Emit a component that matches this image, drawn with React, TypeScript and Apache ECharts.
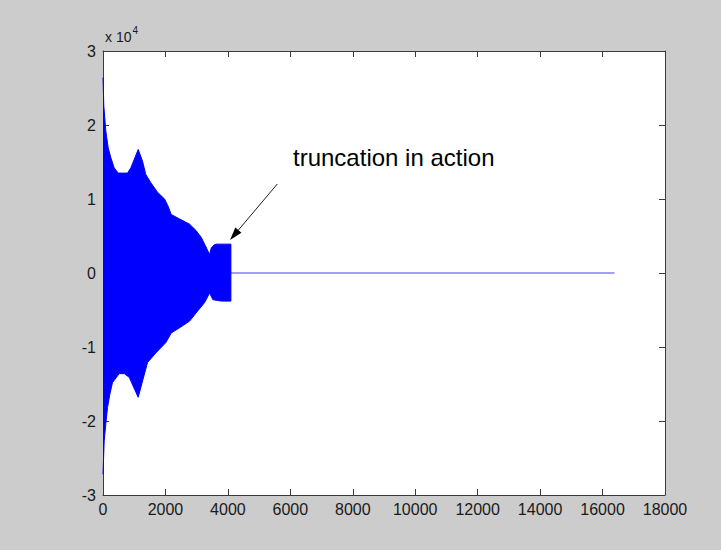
import React, { useEffect, useRef } from "react";
import * as echarts from "echarts";

// Envelope of the sampled signal (value units, ×10^4 on the axis), traced as [sample, amplitude]
const upperEnvelope: [number, number][] = [
  [0, 26400], [26, 22600], [90, 19200], [167, 16900], [250, 15600], [359, 14200],
  [487, 13500], [785, 13500], [891, 14200], [1128, 16700], [1266, 15100], [1372, 13300],
  [1532, 12200], [1747, 10900], [1972, 10000], [2077, 9100], [2186, 7900], [2453, 7300],
  [2773, 6600], [2988, 5700], [3148, 4800], [3254, 3900], [3414, 2500], [3469, 3400],
  [3560, 3800], [3629, 3900], [4001, 3900], [4096, 3900], [4096, 0],
];

const lowerEnvelope: [number, number][] = [
  [0, -27200], [38, -22700], [90, -20400], [144, -18200], [218, -16400], [305, -14800],
  [519, -13600], [680, -13600], [840, -14100], [1128, -16800], [1266, -14600], [1427, -12100],
  [1693, -10800], [2013, -9400], [2186, -8100], [2453, -7400], [2773, -6500], [3039, -5100],
  [3254, -4000], [3414, -2700], [3520, -3600], [3790, -3800], [4096, -3800], [4096, 0],
];

// Zero-padded tail after truncation
const zeroTail: [number, number][] = [
  [4096, 0], [16384, 0],
];

const xRange = { min: 0, max: 18000, interval: 2000 };
const yRange = { min: -30000, max: 30000, interval: 10000 };
const yScaleLabel = ["x 10", "4"];

// Annotation, in data coordinates
const annotationText = "truncation in action";
const annotationAnchor: [number, number] = [6086, 15600];
const arrowTail: [number, number] = [5583, 12030];
const arrowTip: [number, number] = [4068, 4460];

const FONT = '"Liberation Sans", Arial, sans-serif';
const AXIS_COLOR = "#3a3a3a";
const BLUE = "#0000ff";

export default function App() {
  const ref = useRef<HTMLDivElement>(null);

  useEffect(() => {
    const el = ref.current!;
    const chart = echarts.init(el, null, { renderer: "svg" });

    const tickStyle = {
      show: true,
      inside: true,
      length: 6,
      lineStyle: { color: AXIS_COLOR, width: 1 },
    };
    const lineStyle = { show: true, onZero: false, lineStyle: { color: AXIS_COLOR, width: 1 } };
    const labelStyle = {
      fontFamily: FONT,
      fontSize: 16,
      color: "#1a1a1a",
    };

    const option: echarts.EChartsOption = {
      animation: false,
      backgroundColor: "#cccccc",
      grid: {
        left: 103,
        top: 51,
        width: 562,
        height: 444,
        show: true,
        backgroundColor: "#ffffff",
        borderWidth: 0,
      },
      xAxis: [
        {
          type: "value",
          position: "bottom",
          ...xRange,
          axisLine: lineStyle,
          axisTick: tickStyle,
          splitLine: { show: false },
          axisLabel: { ...labelStyle, margin: 6, formatter: (v: number) => String(v) },
        },
        {
          type: "value",
          position: "top",
          ...xRange,
          axisLine: lineStyle,
          axisTick: tickStyle,
          splitLine: { show: false },
          axisLabel: { show: false },
        },
      ],
      yAxis: [
        {
          type: "value",
          position: "left",
          ...yRange,
          axisLine: lineStyle,
          axisTick: tickStyle,
          splitLine: { show: false },
          axisLabel: { ...labelStyle, margin: 7, formatter: (v: number) => String(v / 10000) },
        },
        {
          type: "value",
          position: "right",
          ...yRange,
          axisLine: lineStyle,
          axisTick: tickStyle,
          splitLine: { show: false },
          axisLabel: { show: false },
        },
      ],
      series: [
        {
          type: "line",
          data: upperEnvelope,
          showSymbol: false,
          lineStyle: { color: BLUE, width: 1 },
          areaStyle: { color: BLUE, opacity: 1 },
          z: 2,
        },
        {
          type: "line",
          data: lowerEnvelope,
          showSymbol: false,
          lineStyle: { color: BLUE, width: 1 },
          areaStyle: { color: BLUE, opacity: 1 },
          z: 2,
        },
        {
          type: "line",
          data: zeroTail,
          showSymbol: false,
          lineStyle: { color: BLUE, width: 1, opacity: 0.75 },
          z: 2,
        },
      ],
    };

    chart.setOption(option);

    const finder = { xAxisIndex: 0, yAxisIndex: 0 };
    const tip = chart.convertToPixel(finder, arrowTip) as number[];
    const tail = chart.convertToPixel(finder, arrowTail) as number[];
    const anchor = chart.convertToPixel(finder, annotationAnchor) as number[];

    // Arrowhead geometry
    const dx = tip[0] - tail[0];
    const dy = tip[1] - tail[1];
    const len = Math.hypot(dx, dy);
    const ux = dx / len;
    const uy = dy / len;
    const headLen = 13;
    const headHalf = 4;
    const bx = tip[0] - ux * headLen;
    const by = tip[1] - uy * headLen;
    const px = -uy;
    const py = ux;

    chart.setOption({
      graphic: [
        {
          type: "text",
          x: 105,
          y: 30,
          style: {
            text: yScaleLabel[0],
            font: `14px ${FONT}`,
            fill: "#1a1a1a",
            verticalAlign: "top",
          },
        },
        {
          type: "text",
          x: 132.5,
          y: 25,
          style: {
            text: yScaleLabel[1],
            font: `10px ${FONT}`,
            fill: "#1a1a1a",
            verticalAlign: "top",
          },
        },
        {
          type: "line",
          shape: { x1: tail[0], y1: tail[1], x2: bx, y2: by },
          style: { stroke: "#222222", lineWidth: 1 },
        },
        {
          type: "polygon",
          shape: {
            points: [
              [tip[0], tip[1]],
              [bx + px * headHalf, by + py * headHalf],
              [bx - px * headHalf, by - py * headHalf],
            ],
          },
          style: { fill: "#000000" },
        },
        {
          type: "text",
          x: anchor[0],
          y: anchor[1],
          style: {
            text: annotationText,
            font: `24px ${FONT}`,
            fill: "#000000",
            verticalAlign: "middle",
          },
        },
      ],
    });

    return () => chart.dispose();
  }, []);

  return (
    <div
      ref={ref}
      style={{ position: "fixed", left: 0, top: 0, width: 721, height: 550 }}
    />
  );
}
